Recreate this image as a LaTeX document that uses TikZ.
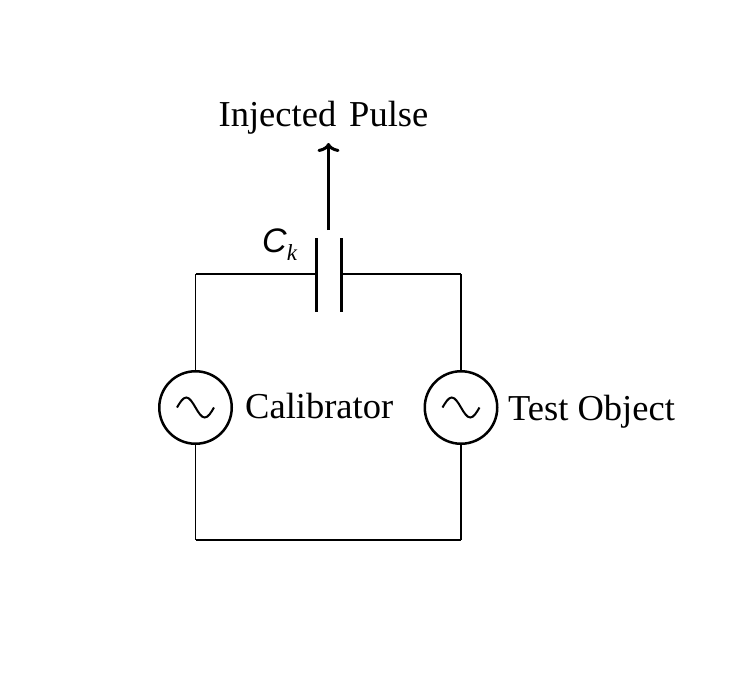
\documentclass[tikz,border=0pt]{standalone}
\usepackage{fontspec}
\setmainfont{Liberation Serif}
\newfontfamily\cksans{Liberation Sans}
\usetikzlibrary{arrows.meta}

\begin{document}
\begin{tikzpicture}[x=1pt,y=-1pt,
  wire/.style={line width=1.3pt},
  plate/.style={line width=3pt},
  src/.style={inner sep=0mm,circle,draw,line width=2.5pt,minimum size=72.5pt},
  lbl/.style={inner sep=0mm,font=\fontsize{36.5}{40}\selectfont}]
\useasboundingbox (0,0) rectangle (744,681);
\foreach \x/\n in {195.5/cal, 461/obj}
  \node[src] (\n) at (\x,407.5) {};
\foreach \n in {cal, obj}
  \draw[line width=2pt] (\n.center) ++(-18.5,0) sin ++(9.25,-10) cos ++(9.25,10) sin ++(9.25,10) cos ++(9.25,-10);
\foreach \x/\y/\n in {195.5/274/tl, 461/274/tr, 195.5/540/bl, 461/540/br, 316/274/pa, 341/274/pb, 316/238/pa1, 316/312/pa2, 341/238/pb1, 341/312/pb2, 328.5/230/inj, 328.5/143/tip}
  \coordinate (\n) at (\x,\y);
\foreach \x/\y/\a/\n/\t in {245/418/base west/calt/Calibrator, 508/420/base west/objt/Test Object, 323.5/126/base/pulse/Injected\hspace{13pt}Pulse}
  \node[lbl,anchor=\a] (\n) at (\x,\y) {\t};
\node[inner sep=0mm,anchor=base west] (ck) at (262,252) {\fontsize{34}{34}\selectfont\cksans\itshape C\raisebox{-8pt}{\fontsize{23}{23}\selectfont\rmfamily k}};
\foreach \s/\t in {cal.north/tl, tl/pa, pb/tr, tr/obj.north, cal.south/bl, bl/br, br/obj.south}
  \draw[wire] (\s) -- (\t);
\foreach \s/\t in {pa1/pa2, pb1/pb2}
  \draw[plate] (\s) -- (\t);
\draw[plate,-{To[length=9pt,width=22pt]}] (inj) -- (tip);

\end{tikzpicture}
\end{document}
